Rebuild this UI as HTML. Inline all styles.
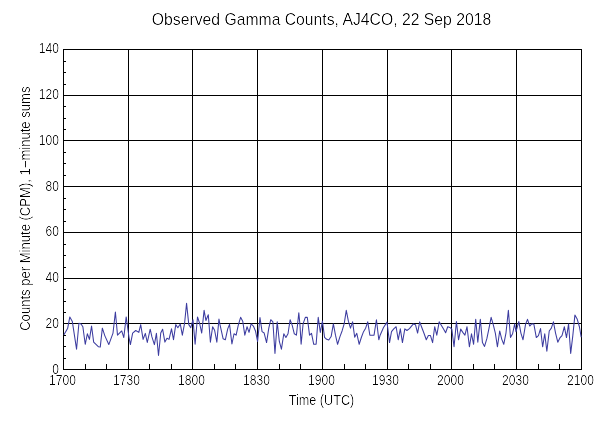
<!DOCTYPE html>
<html><head><meta charset="utf-8"><style>
html,body{margin:0;padding:0;background:#fff;width:600px;height:428px;overflow:hidden}
svg{display:block;font-family:"Liberation Sans",sans-serif}
</style></head><body>
<svg width="600" height="428" viewBox="0 0 600 428">
<defs><filter id="crisp" x="-5%" y="-5%" width="110%" height="110%" color-interpolation-filters="sRGB"><feComponentTransfer><feFuncA type="table" tableValues="0 0.05 0.5 1"/></feComponentTransfer></filter></defs>
<rect width="600" height="428" fill="#fff"/>
<g stroke="#000" stroke-width="1" shape-rendering="crispEdges">
<line x1="63.5" y1="49" x2="63.5" y2="370"/>
<line x1="128.5" y1="49" x2="128.5" y2="370"/>
<line x1="192.5" y1="49" x2="192.5" y2="370"/>
<line x1="257.5" y1="49" x2="257.5" y2="370"/>
<line x1="322.5" y1="49" x2="322.5" y2="370"/>
<line x1="387.5" y1="49" x2="387.5" y2="370"/>
<line x1="451.5" y1="49" x2="451.5" y2="370"/>
<line x1="516.5" y1="49" x2="516.5" y2="370"/>
<line x1="581.5" y1="49" x2="581.5" y2="370"/>
<line x1="63" y1="369.5" x2="582" y2="369.5"/>
<line x1="63" y1="323.5" x2="582" y2="323.5"/>
<line x1="63" y1="278.5" x2="582" y2="278.5"/>
<line x1="63" y1="232.5" x2="582" y2="232.5"/>
<line x1="63" y1="186.5" x2="582" y2="186.5"/>
<line x1="63" y1="140.5" x2="582" y2="140.5"/>
<line x1="63" y1="95.5" x2="582" y2="95.5"/>
<line x1="63" y1="49.5" x2="582" y2="49.5"/>
<line x1="64" y1="358.5" x2="66" y2="358.5"/>
<line x1="64" y1="346.5" x2="66" y2="346.5"/>
<line x1="64" y1="335.5" x2="66" y2="335.5"/>
<line x1="64" y1="312.5" x2="66" y2="312.5"/>
<line x1="64" y1="301.5" x2="66" y2="301.5"/>
<line x1="64" y1="289.5" x2="66" y2="289.5"/>
<line x1="64" y1="267.5" x2="66" y2="267.5"/>
<line x1="64" y1="255.5" x2="66" y2="255.5"/>
<line x1="64" y1="244.5" x2="66" y2="244.5"/>
<line x1="64" y1="221.5" x2="66" y2="221.5"/>
<line x1="64" y1="209.5" x2="66" y2="209.5"/>
<line x1="64" y1="198.5" x2="66" y2="198.5"/>
<line x1="64" y1="175.5" x2="66" y2="175.5"/>
<line x1="64" y1="163.5" x2="66" y2="163.5"/>
<line x1="64" y1="152.5" x2="66" y2="152.5"/>
<line x1="64" y1="129.5" x2="66" y2="129.5"/>
<line x1="64" y1="118.5" x2="66" y2="118.5"/>
<line x1="64" y1="106.5" x2="66" y2="106.5"/>
<line x1="64" y1="84.5" x2="66" y2="84.5"/>
<line x1="64" y1="72.5" x2="66" y2="72.5"/>
<line x1="64" y1="61.5" x2="66" y2="61.5"/>
<line x1="85.5" y1="364" x2="85.5" y2="369"/>
<line x1="106.5" y1="364" x2="106.5" y2="369"/>
<line x1="149.5" y1="364" x2="149.5" y2="369"/>
<line x1="171.5" y1="364" x2="171.5" y2="369"/>
<line x1="214.5" y1="364" x2="214.5" y2="369"/>
<line x1="235.5" y1="364" x2="235.5" y2="369"/>
<line x1="279.5" y1="364" x2="279.5" y2="369"/>
<line x1="300.5" y1="364" x2="300.5" y2="369"/>
<line x1="344.5" y1="364" x2="344.5" y2="369"/>
<line x1="365.5" y1="364" x2="365.5" y2="369"/>
<line x1="408.5" y1="364" x2="408.5" y2="369"/>
<line x1="430.5" y1="364" x2="430.5" y2="369"/>
<line x1="473.5" y1="364" x2="473.5" y2="369"/>
<line x1="494.5" y1="364" x2="494.5" y2="369"/>
<line x1="538.5" y1="364" x2="538.5" y2="369"/>
<line x1="559.5" y1="364" x2="559.5" y2="369"/>
</g>
<polyline fill="none" stroke="#3c3ca0" stroke-width="1.05" stroke-linejoin="round" points="63.93,334.74 67.71,328.15 69.82,316.93 72.34,321.56 76.55,349.18 78.93,323.24 81.03,323.94 82.86,326.75 85.24,344.28 87.35,333.76 89.45,339.37 91.55,326.05 93.66,342.17 98.56,346.80 100.25,347.08 102.35,328.15 104.87,335.86 108.80,344.56 113.01,333.06 115.39,312.02 117.50,335.16 121.70,330.95 123.81,337.55 126.19,316.93 128.99,337.27 130.40,344.56 132.64,333.06 135.73,330.53 138.81,332.36 140.70,324.64 143.09,339.37 145.33,333.40 147.29,342.50 150.20,329.20 151.92,336.90 154.40,344.60 156.41,333.34 158.51,355.50 160.75,333.06 162.60,329.20 164.90,342.10 167.00,338.30 169.03,339.37 171.50,328.80 173.50,339.70 175.76,324.64 177.86,327.73 180.25,323.94 182.35,335.16 184.59,323.24 186.56,303.33 188.80,324.64 190.76,327.73 193.01,319.74 195.11,344.28 197.50,316.93 199.60,323.24 201.70,333.06 204.09,310.34 205.91,320.44 208.29,314.83 210.40,342.17 212.64,326.75 214.60,330.25 216.85,342.17 218.95,319.03 220.00,324.64 223.09,338.67 225.33,339.79 227.71,328.85 229.54,324.36 231.92,344.00 234.02,333.76 236.13,335.16 238.23,325.35 240.61,317.35 242.72,321.14 244.82,335.16 247.06,326.75 249.03,332.36 251.13,323.94 253.38,326.05 255.48,330.95 257.58,341.47 259.97,317.63 262.07,331.66 264.17,333.06 266.56,342.59 268.80,328.15 270.76,319.74 272.87,321.84 274.97,353.39 277.21,321.84 279.32,341.47 281.42,349.18 283.81,333.76 285.91,337.55 288.01,333.76 290.12,319.74 292.22,325.35 294.32,333.76 296.43,335.16 298.81,312.72 300.00,325.35 301.12,344.28 303.09,323.94 305.33,317.35 307.29,317.35 309.54,335.16 311.50,333.34 313.74,344.28 316.13,344.28 318.23,317.35 320.33,332.36 322.44,321.14 324.54,337.27 326.64,339.37 328.75,340.07 331.13,336.56 333.38,323.94 335.48,335.16 337.58,344.28 339.97,336.56 342.07,330.95 344.17,323.94 346.28,310.34 348.38,321.14 350.48,328.15 352.59,321.84 354.69,337.27 356.79,333.34 359.18,344.28 361.42,337.27 363.53,331.66 365.63,328.15 367.73,321.84 369.84,335.16 371.80,335.16 374.04,335.16 376.43,319.74 378.81,339.79 380.00,335.58 383.51,327.45 387.01,322.12 389.54,342.59 391.50,331.66 393.74,328.85 396.13,326.75 398.23,339.79 400.33,328.85 402.44,342.59 404.82,328.85 406.92,330.53 409.45,328.57 413.38,323.94 415.48,324.64 417.58,333.06 419.69,321.84 421.79,327.45 424.17,333.76 426.28,339.79 428.38,335.58 430.48,335.58 432.59,342.59 434.69,326.75 436.79,335.16 439.18,321.84 441.28,325.35 443.39,328.85 445.63,332.78 447.73,326.75 449.84,327.45 451.80,329.13 454.04,346.80 456.43,321.56 458.53,339.79 460.70,329.13 462.80,332.36 464.91,335.16 467.01,326.75 469.40,346.80 471.50,333.76 473.60,344.28 475.71,319.32 477.81,342.17 480.33,319.32 482.44,342.59 484.54,346.38 486.92,338.39 489.03,328.15 491.13,317.35 493.24,324.64 495.34,333.06 497.44,346.80 499.69,330.95 501.79,339.37 503.75,344.28 506.00,332.78 508.38,310.34 510.48,337.55 512.59,333.76 514.69,323.94 516.00,331.66 518.80,321.56 520.91,333.06 523.01,339.79 525.54,324.36 527.50,319.32 529.74,326.05 531.71,323.94 533.81,323.94 536.33,337.55 538.44,335.58 540.54,328.57 542.64,346.80 544.75,333.76 546.85,351.29 549.24,330.95 551.34,328.15 553.44,321.84 555.55,333.06 557.79,342.17 559.89,337.97 562.00,335.58 564.38,326.75 566.48,337.55 568.59,323.94 570.69,353.39 572.79,335.86 574.90,315.11 577.28,319.32 579.39,326.75 581.21,337.27"/>
<g fill="#000" font-size="13" filter="url(#crisp)">
<text transform="translate(59,374) scale(0.93,1.075)" text-anchor="end">0</text>
<text transform="translate(59,328) scale(0.93,1.075)" text-anchor="end">20</text>
<text transform="translate(59,282) scale(0.93,1.075)" text-anchor="end">40</text>
<text transform="translate(59,236) scale(0.93,1.075)" text-anchor="end">60</text>
<text transform="translate(59,191) scale(0.93,1.075)" text-anchor="end">80</text>
<text transform="translate(59,145) scale(0.93,1.075)" text-anchor="end">100</text>
<text transform="translate(59,99) scale(0.93,1.075)" text-anchor="end">120</text>
<text transform="translate(59,53) scale(0.93,1.075)" text-anchor="end">140</text>
<text transform="translate(62.5,385) scale(0.93,1.075)" text-anchor="middle">1700</text>
<text transform="translate(126.5,385) scale(0.93,1.075)" text-anchor="middle">1730</text>
<text transform="translate(191.5,385) scale(0.93,1.075)" text-anchor="middle">1800</text>
<text transform="translate(256.5,385) scale(0.93,1.075)" text-anchor="middle">1830</text>
<text transform="translate(321.5,385) scale(0.93,1.075)" text-anchor="middle">1900</text>
<text transform="translate(385.5,385) scale(0.93,1.075)" text-anchor="middle">1930</text>
<text transform="translate(450.5,385) scale(0.93,1.075)" text-anchor="middle">2000</text>
<text transform="translate(515.5,385) scale(0.93,1.075)" text-anchor="middle">2030</text>
<text transform="translate(580.5,385) scale(0.93,1.075)" text-anchor="middle">2100</text>
<text transform="translate(321.5,405) scale(0.975,1.055)" text-anchor="middle">Time (UTC)</text>
<text transform="translate(30,208.7) rotate(-90) scale(1.006,1.075)" text-anchor="middle">Counts per Minute (CPM), 1&#8722;minute sums</text>
<text transform="translate(321.5,25) scale(0.984,1.0)" text-anchor="middle" font-size="16">Observed Gamma Counts, AJ4CO, 22 Sep 2018</text>
</g>
</svg>
</body></html>
